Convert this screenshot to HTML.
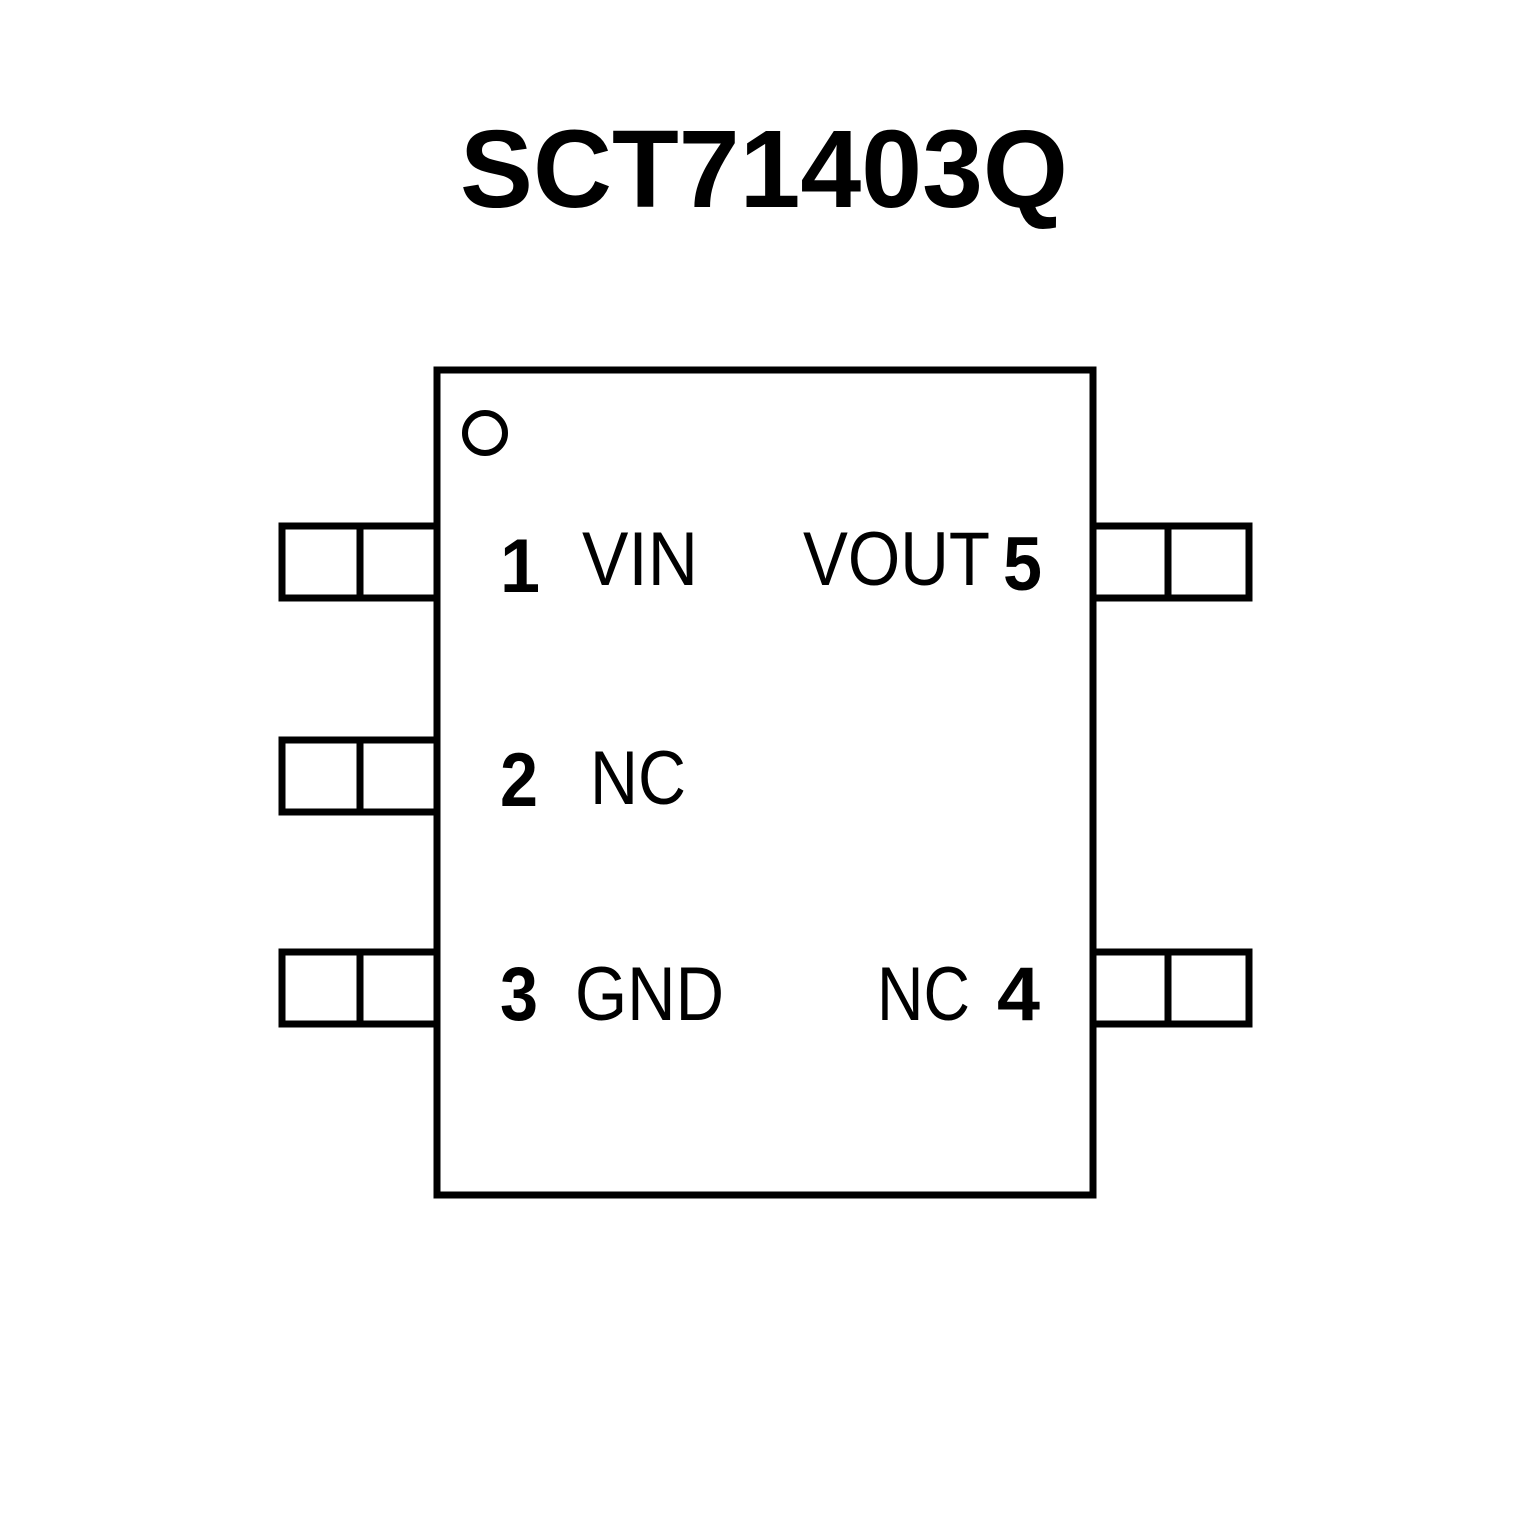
<!DOCTYPE html>
<html><head><meta charset="utf-8"><style>html,body{margin:0;padding:0;background:#fff}svg{display:block}</style></head>
<body>
<svg width="1535" height="1535" viewBox="0 0 1535 1535" xmlns="http://www.w3.org/2000/svg">
<rect width="1535" height="1535" fill="#fff"/>
<text x="460" y="207" font-family="Liberation Sans, sans-serif" font-weight="bold" font-size="110" textLength="608" lengthAdjust="spacingAndGlyphs">SCT71403Q</text>
<g fill="none" stroke="#000" stroke-width="7">
<rect x="437" y="370" width="656" height="825"/>
<circle cx="485" cy="433" r="20" stroke-width="6"/>
<rect x="282" y="526" width="155" height="72"/><line x1="360" y1="526" x2="360" y2="598"/>
<rect x="282" y="740" width="155" height="72"/><line x1="360" y1="740" x2="360" y2="812"/>
<rect x="282" y="952" width="155" height="72"/><line x1="360" y1="952" x2="360" y2="1024"/>
<rect x="1093" y="526" width="156" height="72"/><line x1="1168" y1="526" x2="1168" y2="598"/>
<rect x="1093" y="952" width="156" height="72"/><line x1="1168" y1="952" x2="1168" y2="1024"/>
</g>
<g font-family="Liberation Sans, sans-serif" font-size="76" fill="#000">
<text x="500" y="592" font-weight="bold" textLength="40" lengthAdjust="spacingAndGlyphs">1</text>
<text x="582" y="585" textLength="116" lengthAdjust="spacingAndGlyphs">VIN</text>
<text x="803" y="585" textLength="187" lengthAdjust="spacingAndGlyphs">VOUT</text>
<text x="1003" y="590" font-weight="bold" textLength="39" lengthAdjust="spacingAndGlyphs">5</text>
<text x="500" y="806" font-weight="bold" textLength="38" lengthAdjust="spacingAndGlyphs">2</text>
<text x="590" y="804" textLength="96" lengthAdjust="spacingAndGlyphs">NC</text>
<text x="500" y="1020" font-weight="bold" textLength="38" lengthAdjust="spacingAndGlyphs">3</text>
<text x="575" y="1020" textLength="149" lengthAdjust="spacingAndGlyphs">GND</text>
<text x="877" y="1020" textLength="93" lengthAdjust="spacingAndGlyphs">NC</text>
<text x="997" y="1020" font-weight="bold" textLength="43" lengthAdjust="spacingAndGlyphs">4</text>
</g>
</svg>
</body></html>
